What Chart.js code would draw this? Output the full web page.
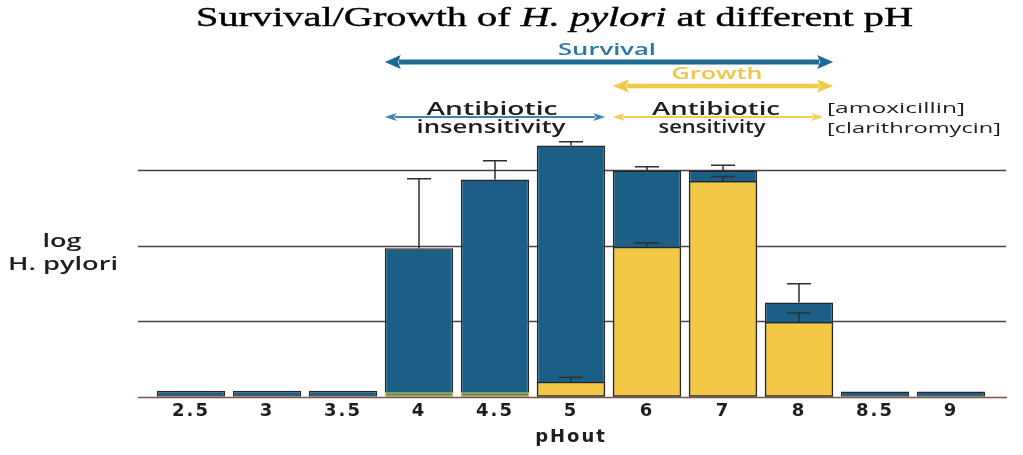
<!DOCTYPE html>
<html>
<head>
<meta charset="utf-8">
<script src="https://cdn.jsdelivr.net/npm/chart.js@4.4.1/dist/chart.umd.min.js"></script>
<style>
  html, body { margin: 0; padding: 0; background: #fff; }
</style>
</head>
<body>
<canvas id="grafico" width="1023" height="455"></canvas>
<script>
// dados (unidades de log, 0 = linha de base)
const categorias = ['2.5', '3', '3.5', '4', '4.5', '5', '6', '7', '8', '8.5', '9'];
const sobrevivencia = [0.08, 0.08, 0.08, 1.97, 2.88, 3.33, 3.0, 3.0, 1.25, 0.07, 0.07];
const erroSobrevivencia = [0, 0, 0, 0.92, 0.25, 0.05, 0.05, 0.07, 0.25, 0, 0];
const crescimento = [null, null, null, 0.06, 0.06, 0.2, 1.99, 2.86, 0.99, null, null];
const erroCrescimento = [0, 0, 0, 0, 0, 0.06, 0.05, 0.06, 0.12, 0, 0];
const linhasGrade = [1, 2, 3];

const azul = '#1b5e86';
const amarelo = '#f3c847';
const contorno = '#262626';

// anotacoes (setas e textos) acima das barras
const setas = [
  { de: '4', ate: '8', y: 62, cor: '#1d6a94', espessura: 5, ponta: 16, alt: 7, recuo: 0 },
  { de: '6', ate: '8', y: 86, cor: '#f2c846', espessura: 4.5, ponta: 16, alt: 6.5, recuo: 0 },
  { de: '4', ate: '5', y: 117, cor: '#3b87b3', espessura: 2, ponta: 12, alt: 4, recuo: 0 },
  { de: '6', ate: '8', y: 117, cor: '#f3cd5c', espessura: 2, ponta: 12, alt: 4, recuo: 10 }
];

const textos = [
  { t: 'Survival', x: 607, y: 55, w: 98, alinhar: 'center', fonte: '600 17px "Open Sans"', cor: '#2a78a5' },
  { t: 'Growth', x: 717, y: 79, w: 91, alinhar: 'center', fonte: '600 17px "Open Sans"', cor: '#f0c542' },
  { t: 'Antibiotic', x: 492, y: 115, w: 131, alinhar: 'center', fonte: '600 18px "Open Sans"', cor: '#1e1e1e' },
  { t: 'insensitivity', x: 491, y: 133, w: 149, alinhar: 'center', fonte: '600 18px "Open Sans"', cor: '#1e1e1e' },
  { t: 'Antibiotic', x: 716, y: 115, w: 128, alinhar: 'center', fonte: '600 18px "Open Sans"', cor: '#1e1e1e' },
  { t: 'sensitivity', x: 712, y: 133, w: 107, alinhar: 'center', fonte: '600 18px "Open Sans"', cor: '#1e1e1e' },
  { t: '[amoxicillin]', x: 827, y: 113, w: 138, alinhar: 'left', fonte: '400 15px "Open Sans"', cor: '#1e1e1e' },
  { t: '[clarithromycin]', x: 827, y: 133, w: 174, alinhar: 'left', fonte: '400 15px "Open Sans"', cor: '#1e1e1e' },
  { t: 'log', x: 62, y: 247, w: 39, alinhar: 'center', fonte: '600 18px "Open Sans"', cor: '#1e1e1e' },
  { t: 'H. pylori', x: 63, y: 270, w: 110, alinhar: 'center', fonte: '600 18px "Open Sans"', cor: '#1e1e1e' }
];

const titulo = [
  { t: 'Survival/Growth of ', fonte: '28px "Liberation Serif"' },
  { t: 'H. pylori', fonte: 'italic 28px "Liberation Serif"' },
  { t: ' at different pH', fonte: '28px "Liberation Serif"' }
];

function textoEsticado(ctx, item) {
  ctx.save();
  ctx.font = item.fonte;
  ctx.fillStyle = item.cor;
  ctx.textBaseline = 'alphabetic';
  ctx.textAlign = item.alinhar;
  const largura = ctx.measureText(item.t).width;
  ctx.translate(item.x, item.y);
  ctx.scale(item.w / largura, 1);
  ctx.fillText(item.t, 0, 0);
  ctx.restore();
}

function desenharSeta(ctx, x1, x2, s) {
  ctx.save();
  ctx.strokeStyle = s.cor;
  ctx.fillStyle = s.cor;
  ctx.lineWidth = s.espessura;
  ctx.beginPath();
  ctx.moveTo(x1 + s.ponta - 2, s.y);
  ctx.lineTo(x2 - s.ponta + 2, s.y);
  ctx.stroke();
  ctx.beginPath();
  ctx.moveTo(x1, s.y);
  ctx.lineTo(x1 + s.ponta, s.y - s.alt);
  ctx.lineTo(x1 + s.ponta - 3, s.y);
  ctx.lineTo(x1 + s.ponta, s.y + s.alt);
  ctx.closePath();
  ctx.fill();
  ctx.beginPath();
  ctx.moveTo(x2, s.y);
  ctx.lineTo(x2 - s.ponta, s.y - s.alt);
  ctx.lineTo(x2 - s.ponta + 3, s.y);
  ctx.lineTo(x2 - s.ponta, s.y + s.alt);
  ctx.closePath();
  ctx.fill();
  ctx.restore();
}

function desenharErros(chart, indice, erros) {
  const ctx = chart.ctx;
  const meta = chart.getDatasetMeta(indice);
  const valores = chart.data.datasets[indice].data;
  const y = chart.scales.y;
  ctx.save();
  ctx.strokeStyle = '#2e2e2e';
  ctx.lineWidth = 1.5;
  meta.data.forEach((barra, i) => {
    if (!erros[i] || valores[i] == null) return;
    const topo = y.getPixelForValue(valores[i] + erros[i]);
    ctx.beginPath();
    ctx.moveTo(barra.x, barra.y);
    ctx.lineTo(barra.x, topo);
    ctx.moveTo(barra.x - 12, topo);
    ctx.lineTo(barra.x + 12, topo);
    ctx.stroke();
  });
  ctx.restore();
}

const pluginAnotacoes = {
  id: 'anotacoes',
  beforeDraw(chart) {
    chart.ctx.letterSpacing = '2px';
  },
  beforeDatasetsDraw(chart) {
    const ctx = chart.ctx;
    const area = chart.chartArea;
    const y = chart.scales.y;
    ctx.save();
    ctx.letterSpacing = '0px';
    ctx.lineWidth = 1.3;
    ctx.strokeStyle = '#4a4040';
    linhasGrade.forEach(v => {
      const py = Math.round(y.getPixelForValue(v)) + 0.5;
      ctx.beginPath();
      ctx.moveTo(area.left - 15, py);
      ctx.lineTo(area.right + 17, py);
      ctx.stroke();
    });
    const base = Math.round(y.getPixelForValue(0)) + 0.5;
    ctx.strokeStyle = '#7a564a';
    ctx.beginPath();
    ctx.moveTo(area.left - 15, base);
    ctx.lineTo(area.right + 18, base);
    ctx.stroke();
    ctx.restore();
  },
  afterDatasetsDraw(chart) {
    desenharErros(chart, 1, erroSobrevivencia);
    desenharErros(chart, 0, erroCrescimento);
  },
  afterDraw(chart) {
    const ctx = chart.ctx;
    ctx.letterSpacing = '0px';
    const meta = chart.getDatasetMeta(1);

    setas.forEach(s => {
      const a = meta.data[categorias.indexOf(s.de)];
      const b = meta.data[categorias.indexOf(s.ate)];
      desenharSeta(ctx, a.x - a.width / 2, b.x + b.width / 2 - s.recuo, s);
    });

    textos.forEach(item => textoEsticado(ctx, item));

    // titulo com trecho em italico, esticado ate a largura da figura
    ctx.save();
    let total = 0;
    titulo.forEach(p => { ctx.font = p.fonte; p.w = ctx.measureText(p.t).width; total += p.w; });
    const escala = 717 / total;
    ctx.translate(196, 26);
    ctx.scale(escala, 1);
    ctx.fillStyle = '#000';
    ctx.strokeStyle = '#000';
    ctx.lineWidth = 0.4;
    ctx.textBaseline = 'alphabetic';
    ctx.textAlign = 'left';
    let x = 0;
    titulo.forEach(p => {
      ctx.font = p.fonte;
      ctx.fillText(p.t, x, 0);
      ctx.strokeText(p.t, x, 0);
      x += p.w;
    });
    ctx.restore();
  }
};

const ctx = document.getElementById('grafico').getContext('2d');
new Chart(ctx, {
  type: 'bar',
  data: {
    labels: categorias,
    datasets: [
      {
        label: 'Growth',
        data: crescimento,
        backgroundColor: c => (c.raw != null && c.raw < 0.1) ? '#4f8a72' : amarelo,
        borderColor: c => (c.raw != null && c.raw < 0.1) ? '#d8c04c' : contorno,
        borderWidth: 1.5,
        borderSkipped: false,
        grouped: false,
        barPercentage: 0.9,
        categoryPercentage: 1
      },
      {
        label: 'Survival',
        data: sobrevivencia,
        backgroundColor: azul,
        borderColor: contorno,
        borderWidth: 1.5,
        borderSkipped: false,
        grouped: false,
        barPercentage: 0.9,
        categoryPercentage: 1
      }
    ]
  },
  options: {
    responsive: false,
    animation: false,
    layout: { padding: { left: 153, right: 34, top: 95, bottom: 7 } },
    plugins: {
      legend: { display: false },
      tooltip: { enabled: false },
      title: { display: false }
    },
    scales: {
      x: {
        grid: { display: false, drawTicks: false },
        border: { display: false },
        ticks: {
          color: '#1e1e1e',
          padding: 4,
          font: { family: 'DejaVu Sans', size: 18, weight: 'bold' }
        },
        title: {
          display: true,
          text: 'pHout',
          color: '#1e1e1e',
          padding: { top: 0, bottom: 0 },
          font: { family: 'DejaVu Sans', size: 18, weight: 'bold' }
        }
      },
      y: { display: false, min: 0, max: 4 }
    }
  },
  plugins: [pluginAnotacoes]
});
</script>
</body>
</html>
